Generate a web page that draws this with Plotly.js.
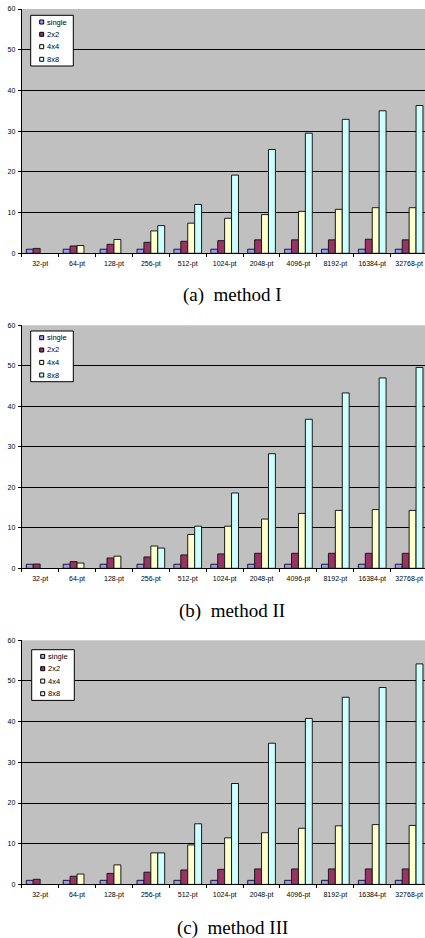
<!DOCTYPE html>
<html>
<head>
<meta charset="utf-8">
<script src="https://cdn.plot.ly/plotly-3.0.1.min.js"></script>
<style>html,body{margin:0;padding:0;background:#fff;overflow:hidden}#chart{width:425px;height:938px}</style>
</head>
<body>
<div id="chart"></div>
<script>
const categories = ['32-pt','64-pt','128-pt','256-pt','512-pt','1024-pt','2048-pt','4096-pt','8192-pt','16384-pt','32768-pt'];
const seriesNames = ['single','2x2','4x4','8x8'];
const panelCaptions = ['(a)\u00a0\u00a0method I','(b)\u00a0\u00a0method II','(c)\u00a0\u00a0method III'];

const methodI_single = [1,1,1,1,1,1,1,1,1,1,1];
const methodI_2x2    = [1.2,1.8,2.2,2.7,2.95,3.1,3.3,3.3,3.3,3.45,3.3];
const methodI_4x4    = [null,1.9,3.4,5.5,7.4,8.6,9.5,10.3,10.8,11.2,11.2];
const methodI_8x8    = [null,null,null,6.8,12.0,19.2,25.5,29.5,32.9,35.0,36.3];

const methodII_single = [1,1,1,1,1,1,1,1,1,1,1];
const methodII_2x2    = [1.05,1.65,2.55,2.8,3.3,3.55,3.7,3.7,3.7,3.7,3.7];
const methodII_4x4    = [null,1.3,3.0,5.5,8.35,10.4,12.15,13.55,14.3,14.5,14.3];
const methodII_8x8    = [null,null,null,5.0,10.4,18.6,28.3,36.8,43.3,47.0,49.6];

const methodIII_single = [1,1,1,1,1,1,1,1,1,1,1];
const methodIII_2x2    = [1.25,2.0,2.7,3.0,3.55,3.7,3.8,3.8,3.8,3.8,3.8];
const methodIII_4x4    = [null,2.55,4.8,7.75,9.7,11.45,12.7,13.8,14.4,14.7,14.5];
const methodIII_8x8    = [null,null,null,7.75,14.9,24.8,34.7,40.8,46.0,48.4,54.2];

const panels = [
  [methodI_single, methodI_2x2, methodI_4x4, methodI_8x8],
  [methodII_single, methodII_2x2, methodII_4x4, methodII_8x8],
  [methodIII_single, methodIII_2x2, methodIII_4x4, methodIII_8x8]
];

const colors = ['#9999FF','#993366','#FFFFCC','#CCFFFF'];
const W = 425, H = 938;
const px = v => v / W;
const py = v => 1 - v / H;

// pixel geometry of each panel: [top (y=60), bottom (y=0)]
const panelPix = [[9, 253.3], [325.3, 568.3], [640.3, 884.4]];
const legendPix = [[30.7, 15.3], [30.7, 331], [31.7, 649.7]];
const captionY = [295, 611, 928];
const plotLeft = 21.7;

const xTickFont = {family: 'Liberation Sans, Arial, sans-serif', size: 7, color: '#000'};
const yTickFont = {family: 'Liberation Sans, Arial, sans-serif', size: 7, color: '#000'};
const data = [];
const layout = {
  width: W, height: H,
  margin: {l: 0, r: 0, t: 0, b: 0},
  paper_bgcolor: '#fff', plot_bgcolor: '#C0C0C0',
  barmode: 'group', bargap: 0.25, bargroupgap: 0,
  showlegend: false,
  shapes: [], annotations: []
};

panels.forEach((series, p) => {
  const sfx = p === 0 ? '' : String(p + 1);
  series.forEach((vals, s) => {
    data.push({
      type: 'bar', x: categories, y: vals, name: seriesNames[s],
      xaxis: 'x' + sfx, yaxis: 'y' + sfx,
      marker: {color: colors[s], line: {color: '#1a1a1a', width: 1}},
      hoverinfo: 'x+y+name'
    });
  });
  layout['xaxis' + sfx] = {
    domain: [px(plotLeft), 1], anchor: 'y' + sfx,
    type: 'category', range: [-0.5, 10.43], fixedrange: true,
    showline: true, linecolor: '#000', linewidth: 1,
    ticks: 'outside', tickson: 'boundaries', ticklen: 3, tickcolor: '#000',
    showgrid: false, tickfont: xTickFont, tickangle: 0, ticklabelstandoff: 3
  };
  layout['yaxis' + sfx] = {
    domain: [py(panelPix[p][1]), py(panelPix[p][0])], anchor: 'x' + sfx,
    range: [0, 60], dtick: 10, fixedrange: true,
    showline: true, linecolor: '#000', linewidth: 1,
    ticks: 'outside', ticklen: 3, tickcolor: '#000',
    showgrid: true, gridcolor: '#000', gridwidth: 1, zeroline: false,
    tickfont: yTickFont, ticklabelstandoff: 1
  };
  // legend box
  const [lx, ly] = legendPix[p];
  layout.shapes.push({type: 'rect', xref: 'paper', yref: 'paper',
    x0: px(lx), x1: px(lx + 42.6), y0: py(ly + 50.7), y1: py(ly),
    fillcolor: '#fff', line: {color: '#000', width: 1}, layer: 'above'});
  const offs = [6.7, 19, 31.4, 44];
  seriesNames.forEach((nm, s) => {
    const cy = ly + offs[s];
    layout.shapes.push({type: 'rect', xref: 'paper', yref: 'paper',
      x0: px(lx + 9), x1: px(lx + 13), y0: py(cy + 2), y1: py(cy - 2),
      fillcolor: colors[s], line: {color: '#000', width: 1}, layer: 'above'});
    layout.annotations.push({xref: 'paper', yref: 'paper', x: px(lx + 14), y: py(cy),
      xanchor: 'left', yanchor: 'middle', showarrow: false, text: nm,
      font: {family: 'Liberation Sans, Arial, sans-serif', size: 7.5, color: '#000'}});
  });
  layout.annotations.push({xref: 'paper', yref: 'paper', x: px(232), y: py(captionY[p]),
    xanchor: 'center', yanchor: 'middle', showarrow: false, text: panelCaptions[p],
    font: {family: 'Liberation Serif, Times New Roman, serif', size: 19, color: '#000'}});
});

Plotly.newPlot('chart', data, layout, {displayModeBar: false, staticPlot: true});
</script>
</body>
</html>
